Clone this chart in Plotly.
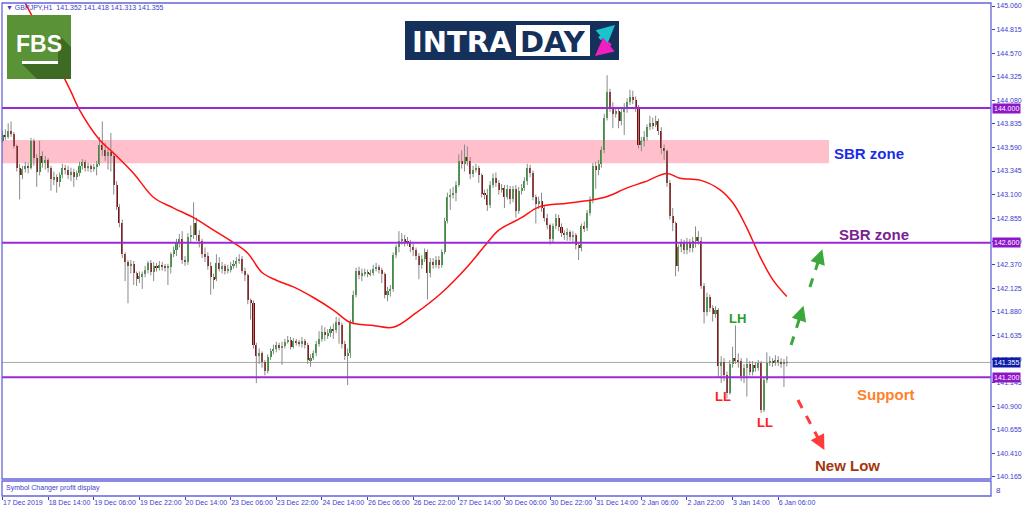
import plotly.graph_objects as go

# ---------------- data (H1 bars, index 0 = 17 Dec 2019) ----------------
OPENS = [143.66,143.72,143.70,143.76,143.73,143.60,143.38,143.30,143.37,143.40,
143.38,143.66,143.48,143.34,143.50,143.43,143.46,143.38,143.26,143.28,
143.23,143.30,143.38,143.36,143.30,143.34,143.28,143.32,143.40,143.44,
143.38,143.40,143.37,143.39,143.42,143.62,143.56,143.50,143.54,143.50,
143.20,142.97,142.80,142.48,142.40,142.36,142.38,142.28,142.22,142.25,
142.27,142.32,142.39,142.30,142.36,142.34,142.37,142.35,142.34,142.35,
142.48,142.52,142.60,142.64,142.42,142.40,142.66,142.68,142.80,142.68,
142.62,142.48,142.46,142.36,142.24,142.22,142.39,142.33,142.36,142.31,
142.32,142.36,142.38,142.41,142.43,142.31,142.26,142.00,141.97,141.54,
141.42,141.45,141.36,141.27,141.41,141.47,141.50,141.54,141.51,141.53,
141.57,141.59,141.52,141.58,141.56,141.55,141.58,141.54,141.38,141.40,
141.45,141.55,141.60,141.67,141.64,141.66,141.70,141.69,141.78,141.74,
141.55,141.42,141.45,141.78,142.06,142.31,142.26,142.28,142.30,142.27,
142.29,142.33,142.35,142.32,142.27,142.06,142.10,142.12,142.47,142.55,
142.62,142.64,142.61,142.60,142.56,142.52,142.46,142.37,142.43,142.50,
142.28,142.40,142.37,142.42,142.37,142.50,142.83,143.08,143.10,143.12,
143.20,143.45,143.42,143.49,143.45,143.31,143.36,143.38,143.30,143.11,
143.10,142.99,143.20,143.27,143.22,143.15,143.17,143.08,143.16,143.05,
143.16,142.93,143.14,143.17,143.24,143.38,143.32,143.08,143.00,143.03,
142.96,142.86,142.78,142.64,142.77,142.86,142.76,142.70,142.68,142.71,
142.66,142.68,142.58,142.54,142.77,142.75,142.91,143.04,143.40,143.36,
143.42,143.56,143.90,144.17,144.00,143.94,143.97,143.86,143.96,143.99,
144.06,144.11,144.08,144.00,143.62,143.66,143.70,143.80,143.84,143.82,
143.86,143.76,143.58,143.55,143.22,142.88,142.80,142.36,142.55,142.60,
142.52,142.60,142.54,142.62,142.66,142.62,142.15,141.88,142.04,141.92,
141.86,141.90,141.32,141.36,141.22,141.04,141.34,141.40,141.38,141.37,
141.21,141.30,141.34,141.26,141.33,141.30,141.35,140.86,141.17,141.35,
141.37,141.35,141.38,141.36,141.34,141.352]

HIGHS = [143.76,143.78,143.84,143.86,143.75,143.62,143.42,143.40,143.44,143.43,
143.69,143.68,143.52,143.66,143.55,143.50,143.48,143.40,143.34,143.31,
143.33,143.42,143.41,143.40,143.38,143.37,143.35,143.44,143.47,143.46,
143.43,143.42,143.42,143.45,143.70,143.86,143.64,143.58,143.74,143.53,
143.24,143.00,142.84,142.50,142.42,142.42,142.41,142.30,142.30,142.30,
142.36,142.41,142.42,142.40,142.39,142.41,142.40,142.38,142.38,142.50,
142.56,142.64,142.69,142.72,142.46,142.70,142.78,143.02,142.86,142.73,
142.64,142.55,142.50,142.40,142.28,142.48,142.45,142.40,142.38,142.37,
142.40,142.42,142.45,142.48,142.46,142.34,142.28,142.02,142.00,141.56,
141.50,141.47,141.38,141.44,141.50,141.54,141.57,141.56,141.57,141.60,
141.63,141.62,141.61,141.60,141.59,141.62,141.60,141.56,141.44,141.48,
141.58,141.68,141.74,141.72,141.70,141.73,141.76,141.83,141.82,141.77,
141.58,141.50,141.80,142.10,142.34,142.35,142.33,142.33,142.32,142.32,
142.37,142.39,142.37,142.34,142.29,142.14,142.16,142.50,142.58,142.72,
142.70,142.68,142.66,142.63,142.60,142.55,142.49,142.47,142.54,142.53,
142.44,142.44,142.46,142.46,142.53,142.86,143.12,143.16,143.18,143.24,
143.52,143.56,143.62,143.60,143.49,143.40,143.42,143.40,143.32,143.15,
143.16,143.24,143.32,143.33,143.25,143.21,143.20,143.20,143.19,143.19,
143.20,143.18,143.21,143.28,143.42,143.41,143.35,143.10,143.08,143.12,
142.98,142.90,142.80,142.80,142.90,142.89,142.80,142.73,142.75,142.73,
142.72,142.70,142.60,142.80,142.82,142.94,143.08,143.43,143.44,143.46,
143.60,143.94,144.34,144.20,144.06,144.00,144.00,144.00,144.05,144.10,
144.19,144.18,144.12,144.03,143.70,143.76,143.83,143.92,143.90,143.92,
143.89,143.80,143.62,143.57,143.25,142.96,142.82,142.58,142.64,142.63,
142.65,142.64,142.66,142.77,142.72,142.66,142.18,142.08,142.06,141.95,
141.94,141.92,141.42,141.40,141.26,141.38,141.52,141.74,141.45,141.40,
141.34,141.40,141.37,141.37,141.36,141.38,141.37,141.20,141.46,141.42,
141.40,141.43,141.42,141.40,141.39,141.418]

LOWS = [143.64,143.67,143.68,143.70,143.58,143.34,143.05,143.26,143.33,143.32,
143.36,143.40,143.18,143.30,143.38,143.36,143.33,143.14,143.20,143.12,
143.18,143.27,143.31,143.26,143.24,143.18,143.25,143.29,143.36,143.34,
143.34,143.33,143.34,143.30,143.40,143.50,143.45,143.36,143.34,143.10,
142.94,142.76,142.44,142.20,141.97,142.28,142.16,142.15,142.18,142.12,
142.24,142.28,142.26,142.20,142.30,142.31,142.31,142.30,142.16,142.28,
142.45,142.46,142.55,142.38,142.36,142.37,142.60,142.64,142.62,142.55,
142.44,142.40,142.32,142.06,142.12,142.20,142.30,142.28,142.27,142.28,
142.29,142.33,142.34,142.38,142.28,142.20,141.96,141.80,141.50,141.14,
141.34,141.30,141.22,141.24,141.38,141.44,141.46,141.48,141.33,141.50,
141.55,141.49,141.50,141.53,141.52,141.51,141.50,141.34,141.31,141.38,
141.42,141.52,141.57,141.58,141.60,141.62,141.60,141.66,141.55,141.50,
141.38,141.12,141.40,141.75,142.03,142.22,142.20,142.25,142.24,142.25,
142.26,142.30,142.28,142.18,142.02,141.99,142.04,142.09,142.44,142.50,
142.58,142.56,142.57,142.50,142.46,142.42,142.22,142.33,142.40,142.01,
142.24,142.33,142.34,142.33,142.34,142.48,142.80,142.94,143.06,143.03,
143.18,143.37,143.34,143.40,143.26,143.28,143.33,143.22,143.07,143.05,
142.93,142.96,143.17,143.18,143.10,143.12,142.96,143.05,143.00,143.02,
142.86,142.90,143.10,143.14,143.20,143.28,143.04,142.80,142.95,142.92,
142.82,142.74,142.58,142.60,142.74,142.72,142.66,142.63,142.62,142.62,
142.61,142.53,142.42,142.51,142.71,142.72,142.88,143.01,143.16,143.30,
143.38,143.53,143.87,143.96,143.79,143.90,143.79,143.82,143.72,143.95,
144.03,144.04,143.96,143.58,143.55,143.60,143.66,143.77,143.78,143.80,
143.72,143.52,143.46,143.18,142.84,142.72,142.25,142.30,142.50,142.48,
142.48,142.50,142.50,142.55,142.58,142.12,141.76,141.84,141.88,141.78,
141.82,141.20,141.14,141.16,140.98,141.02,141.30,141.34,141.30,141.16,
141.14,141.00,141.22,141.22,141.26,141.27,140.83,140.84,141.14,141.32,
141.31,141.32,141.32,141.30,141.10,141.313]

CLOSES = OPENS[1:] + [141.355]

# moving average read at sample bars
MA_IDX = [0, 8, 16, 24, 27, 34, 39, 46, 53, 60, 67, 74, 81, 86, 91, 96, 102, 109, 116,
          122, 130, 137, 145, 154, 163, 170, 174, 182, 188, 198, 206, 212, 219, 225, 233,
          237.5, 244.6, 251.6, 256.2, 260.9, 265.6, 270.2, 275]
MA_VAL = [145.55, 145.09, 144.64, 144.17, 143.98, 143.67, 143.53, 143.32, 143.07, 142.96,
          142.86, 142.73, 142.60, 142.49, 142.29, 142.21, 142.14, 142.03, 141.90,
          141.77, 141.74, 141.72, 141.87, 142.08, 142.35, 142.60, 142.73, 142.86, 142.97,
          143.01, 143.04, 143.08, 143.17, 143.23, 143.32, 143.27, 143.25, 143.15, 143.01,
          142.76, 142.455, 142.21, 142.04]

TIME_LABELS = ["17 Dec 2019", "18 Dec 14:00", "19 Dec 06:00", "19 Dec 22:00", "20 Dec 14:00",
               "23 Dec 06:00", "23 Dec 22:00", "24 Dec 14:00", "26 Dec 06:00", "26 Dec 22:00",
               "27 Dec 14:00", "30 Dec 06:00", "30 Dec 22:00", "31 Dec 14:00", "2 Jan 06:00",
               "2 Jan 22:00", "3 Jan 14:00", "6 Jan 06:00"]
TIME_TICKS = [16 * i for i in range(len(TIME_LABELS))]
PRICE_LABELS = ["145.060", "144.815", "144.570", "144.325", "144.080", "143.835", "143.590",
                "143.345", "143.100", "142.855", "142.610", "142.370", "142.125", "141.880",
                "141.635", "141.390", "141.145", "140.900", "140.655", "140.410", "140.165"]
PRICE_TICKS = [float(s) for s in PRICE_LABELS]

LEVELS = [144.000, 142.600, 141.200]
CURRENT = 141.355
ZONE = (143.426, 143.667)

# ---------------- figure ----------------
N = len(OPENS)
idx = list(range(N))
bases = [min(o, c) for o, c in zip(OPENS, CLOSES)]
heights = [max(abs(c - o), 0.006) for o, c in zip(OPENS, CLOSES)]
colors = ["#239a23" if c >= o else "#8b0000" for o, c in zip(OPENS, CLOSES)]
wx, wy = [], []
for i in idx:
    wx += [i, i, None]
    wy += [LOWS[i], HIGHS[i], None]

fig = go.Figure()
fig.add_trace(go.Scatter(x=wx, y=wy, mode="lines", line=dict(color="#8a8a8a", width=1),
                         hoverinfo="skip", xaxis="x", yaxis="y"))
fig.add_trace(go.Bar(x=idx, y=heights, base=bases, width=0.72,
                     marker=dict(color=colors, line=dict(width=0)),
                     hoverinfo="skip", xaxis="x", yaxis="y"))
fig.add_trace(go.Scatter(x=MA_IDX, y=MA_VAL, mode="lines", line=dict(color="#ff1010", width=1.5, shape="spline"),
                         hoverinfo="skip", xaxis="x", yaxis="y"))
fig.add_trace(go.Scatter(x=[0], y=[0.5], mode="markers", marker=dict(opacity=0),
                         hoverinfo="skip", xaxis="x", yaxis="y2"))

W, H = 1024, 511
L, R, T, B = 2, 33, 3, 15
PW, PH = W - L - R, H - T - B


def px(xp):
    return (xp - L) / PW


def py(yp):
    return (H - B - yp) / PH


AX = "#3d3dcc"
FR = "#6464dc"
main_bottom = py(479)
sub_top = py(481)

shapes = []
# SBR zone rectangle
shapes.append(dict(type="rect", xref="x", yref="y", x0=-2, x1=289.8, y0=ZONE[0], y1=ZONE[1],
                   fillcolor="#ffc0cb", line=dict(width=0), layer="below"))
# current price line
shapes.append(dict(type="line", xref="paper", yref="y", x0=0, x1=1, y0=CURRENT, y1=CURRENT,
                   line=dict(color="#a8a8a8", width=1), layer="below"))
for lv in LEVELS:
    shapes.append(dict(type="line", xref="paper", yref="y", x0=0, x1=1, y0=lv, y1=lv,
                       line=dict(color="#9a2ad8", width=2), layer="above"))
# frames
shapes.append(dict(type="rect", xref="paper", yref="paper", x0=0, x1=1, y0=main_bottom, y1=1,
                   line=dict(color=FR, width=1.3)))
shapes.append(dict(type="rect", xref="paper", yref="paper", x0=0, x1=1, y0=0, y1=sub_top,
                   line=dict(color=FR, width=1.3)))
# FBS logo
shapes.append(dict(type="rect", xref="paper", yref="paper", x0=px(7), x1=px(71), y0=py(79), y1=py(15),
                   fillcolor="#5a9237", line=dict(width=0), layer="above"))
shadow = [(22, 64), (58, 64), (58, 34), (71, 47), (71, 79), (37, 79)]
path = "M " + " L ".join(f"{px(a):.5f},{py(b):.5f}" for a, b in shadow) + " Z"
shapes.append(dict(type="path", xref="paper", yref="paper", path=path,
                   fillcolor="#3e6b24", line=dict(width=0), layer="above"))
shapes.append(dict(type="rect", xref="paper", yref="paper", x0=px(22), x1=px(58), y0=py(64), y1=py(61),
                   fillcolor="white", line=dict(width=0), layer="above"))
# INTRADAY logo
shapes.append(dict(type="rect", xref="paper", yref="paper", x0=px(405), x1=px(619), y0=py(60), y1=py(21),
                   fillcolor="#15315b", line=dict(width=0), layer="above"))
shapes.append(dict(type="rect", xref="paper", yref="paper", x0=px(516), x1=px(590), y0=py(56), y1=py(25),
                   fillcolor="white", line=dict(width=0), layer="above"))
# dashed arrows (data coords)
GREEN = "#3aa83a"
REDA = "#ff3b3b"
arrows = [((276.5, 141.536), (280.4, 141.90), GREEN),
          ((283.1, 142.14), (287.0, 142.49), GREEN),
          ((278.9, 140.965), (287.2, 140.50), REDA)]
for (x0, y0), (x1, y1), c in arrows:
    shapes.append(dict(type="line", xref="x", yref="y", x0=x0, y0=y0, x1=x1, y1=y1,
                       line=dict(color=c, width=3, dash="dash")))

ann = []
ann.append(dict(xref="paper", yref="paper", x=px(4), y=py(7.5), xanchor="left", yanchor="middle",
                text="▼ GBPJPY,H1  141.352 141.418 141.313 141.355", showarrow=False,
                font=dict(size=7, color=AX, family="Liberation Sans")))
ann.append(dict(xref="paper", yref="paper", x=px(4), y=py(488), xanchor="left", yanchor="middle",
                text="Symbol Changer profit display", showarrow=False,
                font=dict(size=7, color=AX, family="Liberation Sans")))
ann.append(dict(xref="paper", yref="paper", x=px(994), y=py(490), xanchor="left", yanchor="middle",
                text="8", showarrow=False, font=dict(size=8, color=AX, family="Liberation Sans")))
# price labels on the axis
for lv in LEVELS:
    ann.append(dict(xref="paper", yref="y", x=1, y=lv, xanchor="left", yanchor="middle", xshift=1,
                    text=f"{lv:.3f}", showarrow=False, bgcolor="#8c16c8", borderpad=1,
                    font=dict(size=7, color="white", family="Liberation Sans")))
ann.append(dict(xref="paper", yref="y", x=1, y=CURRENT, xanchor="left", yanchor="middle", xshift=1,
                text=f"{CURRENT:.3f}", showarrow=False, bgcolor="#0c1ca8", borderpad=1,
                font=dict(size=7, color="white", family="Liberation Sans")))
# logos text
ann.append(dict(xref="paper", yref="paper", x=px(39), y=py(44), xanchor="center", yanchor="middle",
                text="<b>FBS</b>", showarrow=False, font=dict(size=23, color="white", family="Liberation Sans")))
ann.append(dict(xref="paper", yref="paper", x=px(410), y=py(41.5), xanchor="left", yanchor="middle",
                text="<b>INTRA</b>", showarrow=False, font=dict(size=29, color="white", family="DejaVu Sans")))
ann.append(dict(xref="paper", yref="paper", x=px(553), y=py(41.5), xanchor="center", yanchor="middle",
                text="<b>DAY</b>", showarrow=False, font=dict(size=29, color="#15315b", family="DejaVu Sans")))
ann.append(dict(xref="paper", yref="paper", x=px(615), y=py(25), ax=-17, ay=15, text="", showarrow=True,
                arrowhead=2, arrowsize=0.9, arrowwidth=4, arrowcolor="#19c4cc"))
ann.append(dict(xref="paper", yref="paper", x=px(595), y=py(56), ax=17, ay=-14, text="", showarrow=True,
                arrowhead=2, arrowsize=0.9, arrowwidth=4, arrowcolor="#f01fbe"))
# arrowheads for dashed arrows
for (x0, y0), (x1, y1), c in arrows:
    dx = x1 - x0
    dy = y1 - y0
    pxdx, pxdy = dx * 2.852, -dy * 96.2
    n = (pxdx ** 2 + pxdy ** 2) ** 0.5
    ann.append(dict(xref="x", yref="y", x=x1 + dx * 0.12, y=y1 + dy * 0.12,
                    ax=-pxdx / n * 7, ay=-pxdy / n * 7, text="", showarrow=True,
                    arrowhead=2, arrowsize=1, arrowwidth=3, arrowcolor=c))


def label(text, x, y, color, size=15):
    ann.append(dict(xref="x", yref="y", x=x, y=y, xanchor="center", yanchor="middle", text=f"<b>{text}</b>",
                    showarrow=False, font=dict(size=size, color=color, family="Liberation Sans")))


label("SBR zone", 303.8, 143.527, "#1b2ee6")
label("SBR zone", 305.6, 142.68, "#7a2290")
label("LH", 257.7, 141.817, "#2b9c2b", 13)
label("LL", 252.5, 140.996, "#ff2020", 13)
label("LL", 267.3, 140.726, "#ff2020", 13)
label("Support", 309.8, 141.027, "#ff7f2a")
label("New Low", 296.4, 140.28, "#a3380e")

fig.update_layout(
    width=W, height=H, margin=dict(l=L, r=R, t=T, b=B, autoexpand=False),
    paper_bgcolor="white", plot_bgcolor="white", showlegend=False, hovermode=False,
    bargap=0,
    xaxis=dict(domain=[0, 1], anchor="y2", range=[-0.175, 346.6], tickvals=TIME_TICKS,
               ticktext=TIME_LABELS, ticks="outside", ticklen=3, tickcolor=AX, tickangle=0,
               tickfont=dict(size=7, color=AX, family="Liberation Sans"), automargin=False,
               ticklabelposition="outside right", showgrid=False, zeroline=False,
               showline=False, rangeslider=dict(visible=False), fixedrange=True),
    yaxis=dict(domain=[main_bottom, 1], anchor="x", side="right", range=[140.1435, 145.0915],
               tickvals=PRICE_TICKS, ticktext=PRICE_LABELS,
               ticks="outside", ticklen=3, tickcolor=AX, automargin=False,
               tickfont=dict(size=7, color=AX, family="Liberation Sans"),
               showgrid=False, zeroline=False, showline=False, fixedrange=True),
    yaxis2=dict(domain=[0, sub_top], anchor="x", range=[0, 1], showticklabels=False,
                ticks="", showgrid=False, zeroline=False, showline=False, fixedrange=True),
    shapes=shapes, annotations=ann,
)

fig.write_html("out.html", config={"displayModeBar": False},
               post_script="document.body.style.margin='0';document.body.style.overflow='hidden';")
